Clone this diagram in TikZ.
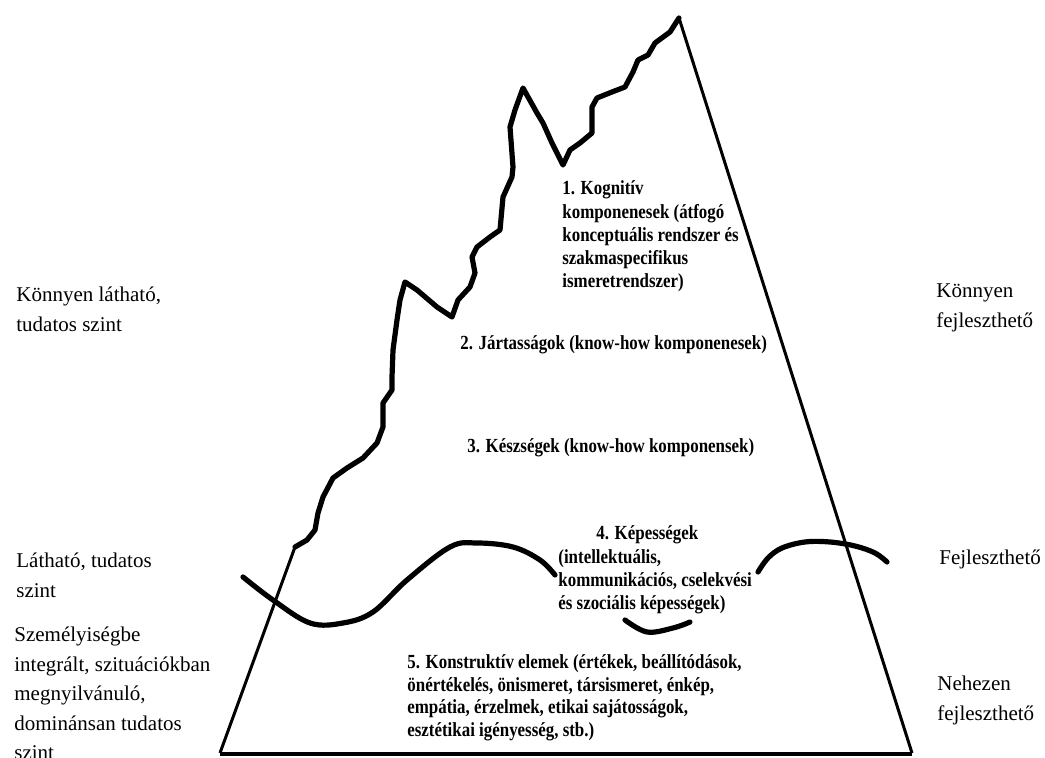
\documentclass[tikz,border=0pt]{standalone}
\usepackage{fontspec}
\setmainfont{Liberation Serif}
\newfontfamily\condfont{Liberation Serif}[FakeStretch=0.845]
\tikzset{
  ridge/.style={line width=2.6pt, line join=round, line cap=round},
  edge/.style={line width=1.5pt, line join=round},
  baseline edge/.style={line width=2.2pt},
  wave/.style={line width=2.6pt, line cap=round},
  outer/.style={anchor=west, inner sep=0pt, align=left, font=\fontsize{10.5}{15}\selectfont},
  inner/.style={anchor=west, inner sep=0pt, align=left, font=\condfont\bfseries\fontsize{10}{11.65}\selectfont},
}
\begin{document}
\begin{tikzpicture}[x=0.5pt,y=-0.5pt]
\clip (0,0) rectangle (1045,758);
\fill[white] (0,0) rectangle (1045,758);
% jagged visible ridge
\draw[ridge] (679,18) -- (670,32) -- (655,43) -- (648,55) -- (638,60) -- (633,72) -- (625,87) -- (612,92) -- (597,98) -- (592,107) -- (592,133) -- (580,143) -- (570,150) -- (563,165)
  -- (552,143) -- (543,123) -- (537,113) -- (523,88)
  -- (515,110) -- (510,127) -- (513,167) -- (512,177) -- (503,197) -- (500,230) -- (490,237) -- (477,247) -- (472,257) -- (475,273) -- (470,287) -- (458,300) -- (452,317)
  -- (437,307) -- (417,290) -- (405,282)
  -- (400,300) -- (397,320) -- (393,350) -- (392,377) -- (392,390) -- (383,403) -- (383,427) -- (377,443) -- (363,458) -- (347,468) -- (333,478) -- (323,497) -- (318,513) -- (315,530) -- (307,540) -- (295,547);
% triangle edges
\draw[edge] (295,547) -- (220,753);
\draw[edge] (679,18) -- (912,753);
\draw[baseline edge] (220,754) -- (912,754);
% waterline waves
\draw[wave] plot[smooth, tension=0.6] coordinates {(243,577) (273,600) (310,623) (343,623) (373,612) (407,580) (450,547) (477,543) (513,547) (540,560) (555,575)};
\draw[wave] plot[smooth, tension=0.6] coordinates {(625,620) (647,632) (673,628) (690,622)};
\draw[wave] plot[smooth, tension=0.6] coordinates {(758,572) (768,558) (782,548) (805,542) (830,542) (855,546) (875,553) (887,562)};
% inner labels
\node[inner] (k1) at (562,236.5) {1. Kognitív\\komponenesek (átfogó\\konceptuális rendszer és\\szakmaspecifikus\\ismeretrendszer)};
\node[inner] (k2) at (460,345) {2. Jártasságok (know-how komponenesek)};
\node[inner] (k3) at (467,448) {3. Készségek (know-how komponensek)};
\node[inner] (k4) at (558,570) {\hspace*{19pt}4. Képességek\\(intellektuális,\\kommunikációs, cselekvési\\és szociális képességek)};
\node[inner, font=\condfont\bfseries\fontsize{10}{11.25}\selectfont] (k5) at (407,698) {5. Konstruktív elemek (értékek, beállítódások,\\önértékelés, önismeret, társismeret, énkép,\\empátia, érzelmek, etikai sajátosságok,\\esztétikai igényesség, stb.)};
% left labels
\node[outer] (l1) at (16,309) {Könnyen látható,\\tudatos szint};
\node[outer] (l2) at (16,575) {Látható, tudatos\\szint};
\node[outer, font=\fontsize{10.5}{14.75}\selectfont] (l3) at (14,693.5) {Személyiségbe\\integrált, szituációkban\\megnyilvánuló,\\dominánsan tudatos\\szint};
% right labels
\node[outer] (r1) at (936,308) {Könnyen\\fejleszthető};
\node[outer] (r2) at (939,559) {Fejleszthető};
\node[outer] (r3) at (937,700) {Nehezen\\fejleszthető};
\end{tikzpicture}
\end{document}
